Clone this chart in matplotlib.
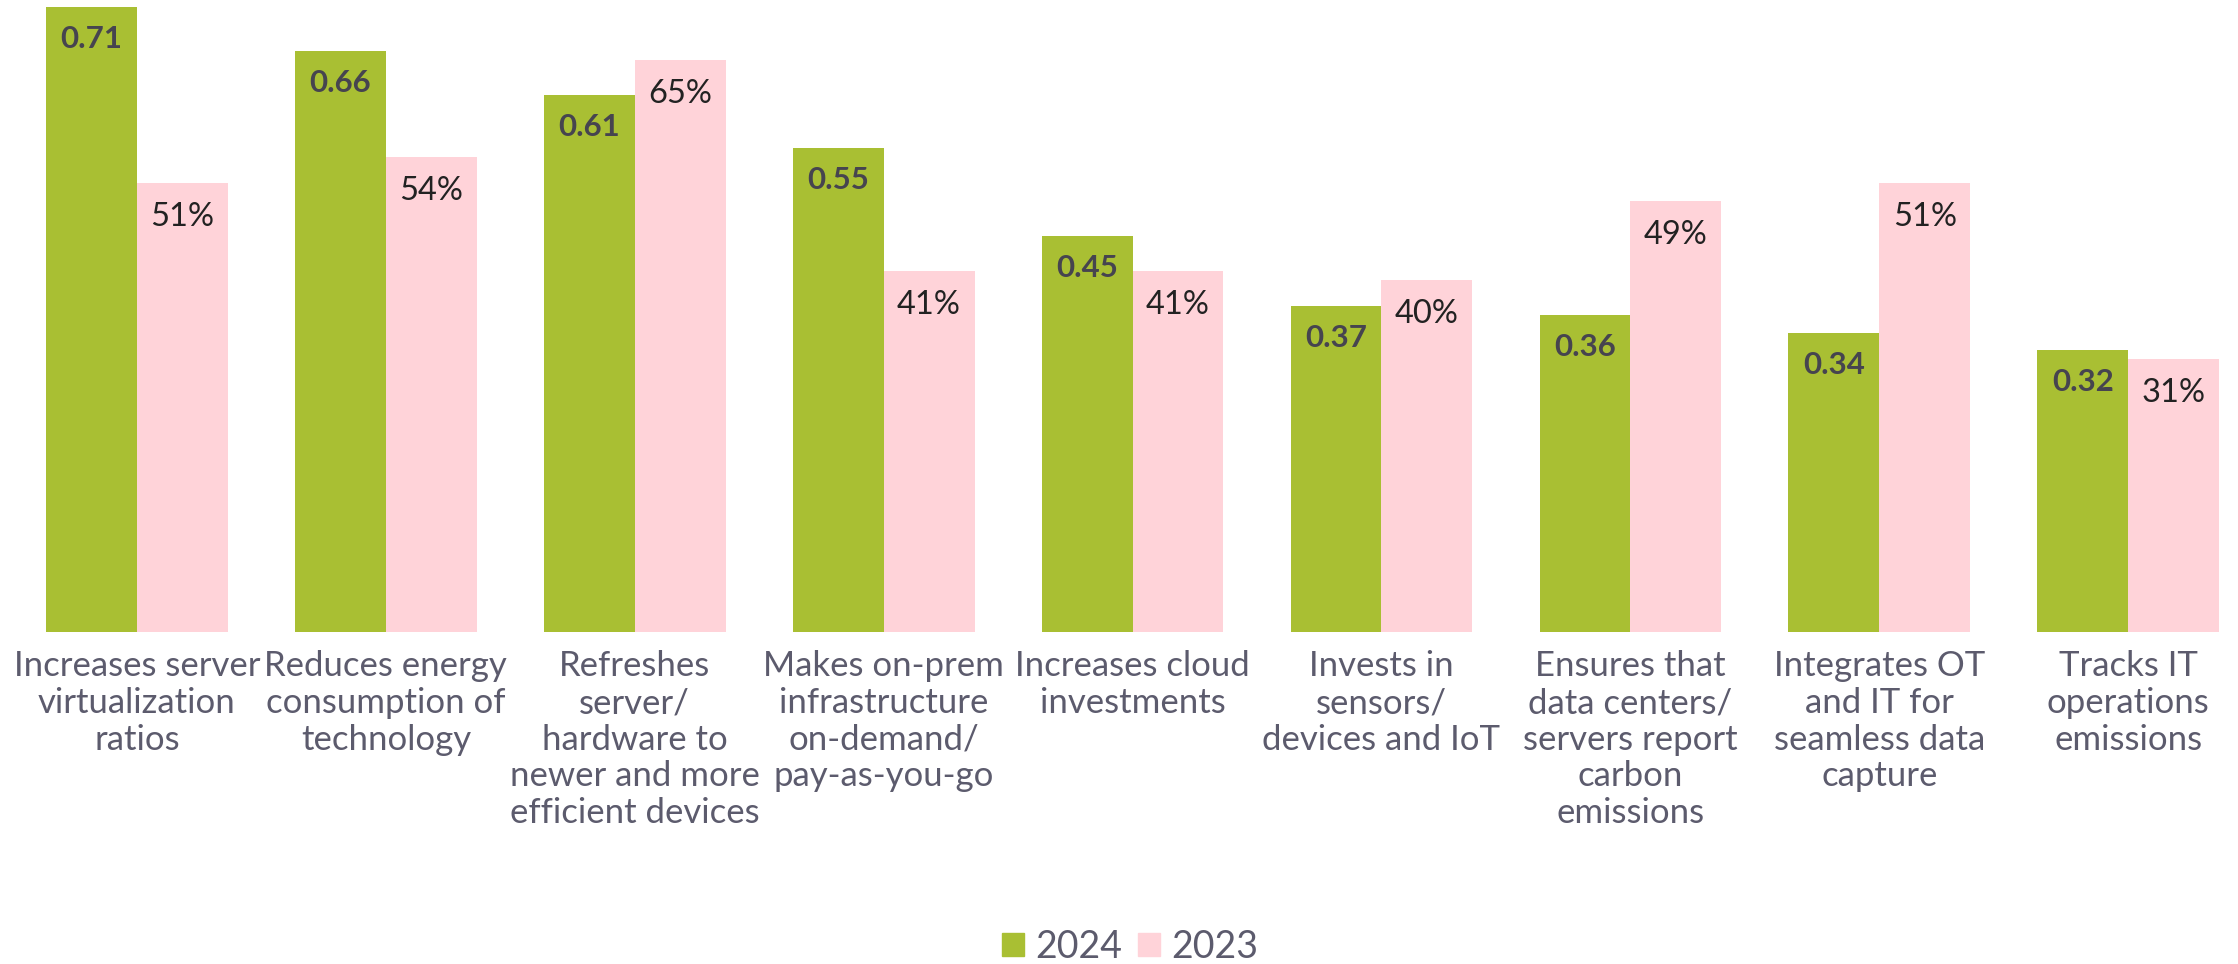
import numpy as np
import matplotlib.pyplot as plt
from matplotlib.patches import Patch

plt.rcParams['font.family'] = ['Lato', 'DejaVu Sans']

categories = [
    "Increases server\nvirtualization\nratios",
    "Reduces energy\nconsumption of\ntechnology",
    "Refreshes\nserver/\nhardware to\nnewer and more\nefficient devices",
    "Makes on-prem\ninfrastructure\non-demand/\npay-as-you-go",
    "Increases cloud\ninvestments",
    "Invests in\nsensors/\ndevices and IoT",
    "Ensures that\ndata centers/\nservers report\ncarbon\nemissions",
    "Integrates OT\nand IT for\nseamless data\ncapture",
    "Tracks IT\noperations\nemissions",
]
vals_2024 = [0.71, 0.66, 0.61, 0.55, 0.45, 0.37, 0.36, 0.34, 0.32]
vals_2023 = [0.51, 0.54, 0.65, 0.41, 0.41, 0.40, 0.49, 0.51, 0.31]

GREEN = '#a9bf33'
PINK = '#ffd3d9'
TEXT = '#5c5b6d'

fig = plt.figure(figsize=(22.38, 9.64), dpi=100)
ax = fig.add_axes([0, 0.344, 1, 0.656])

x = np.arange(len(categories))
w = 0.365
b1 = ax.bar(x - w / 2, vals_2024, w, color=GREEN)
b2 = ax.bar(x + w / 2, vals_2023, w, color=PINK)

for rect, v in zip(b1, vals_2024):
    ax.annotate(f"{v:.2f}", (rect.get_x() + rect.get_width() / 2, rect.get_height()),
                xytext=(0, -23), textcoords='offset points', ha='center', va='center',
                fontsize=22.5, fontweight='bold', color='#46444f')
for rect, v in zip(b2, vals_2023):
    ax.annotate(f"{v * 100:.0f}%", (rect.get_x() + rect.get_width() / 2, rect.get_height()),
                xytext=(0, -24.5), textcoords='offset points', ha='center', va='center',
                fontsize=23.5, color='#222222')

ax.set_xlim(-0.550, 8.441)
ax.set_ylim(0, 0.7177)
ax.set_xticks(x)
ax.set_xticklabels(categories, fontsize=25, color=TEXT, linespacing=1.18,
                   multialignment='center')
ax.tick_params(axis='x', length=0, pad=13)
ax.set_yticks([])
for s in ax.spines.values():
    s.set_visible(False)

handles = [Patch(color=GREEN, label='2024'), Patch(color=PINK, label='2023')]
fig.legend(handles=handles, loc='center', bbox_to_anchor=(0.505, 0.018),
           ncol=2, frameon=False, fontsize=27, handlelength=0.6,
           handleheight=0.6, handletextpad=0.3, columnspacing=0.4,
           labelcolor=TEXT)

fig.savefig('out.png', dpi=100)
